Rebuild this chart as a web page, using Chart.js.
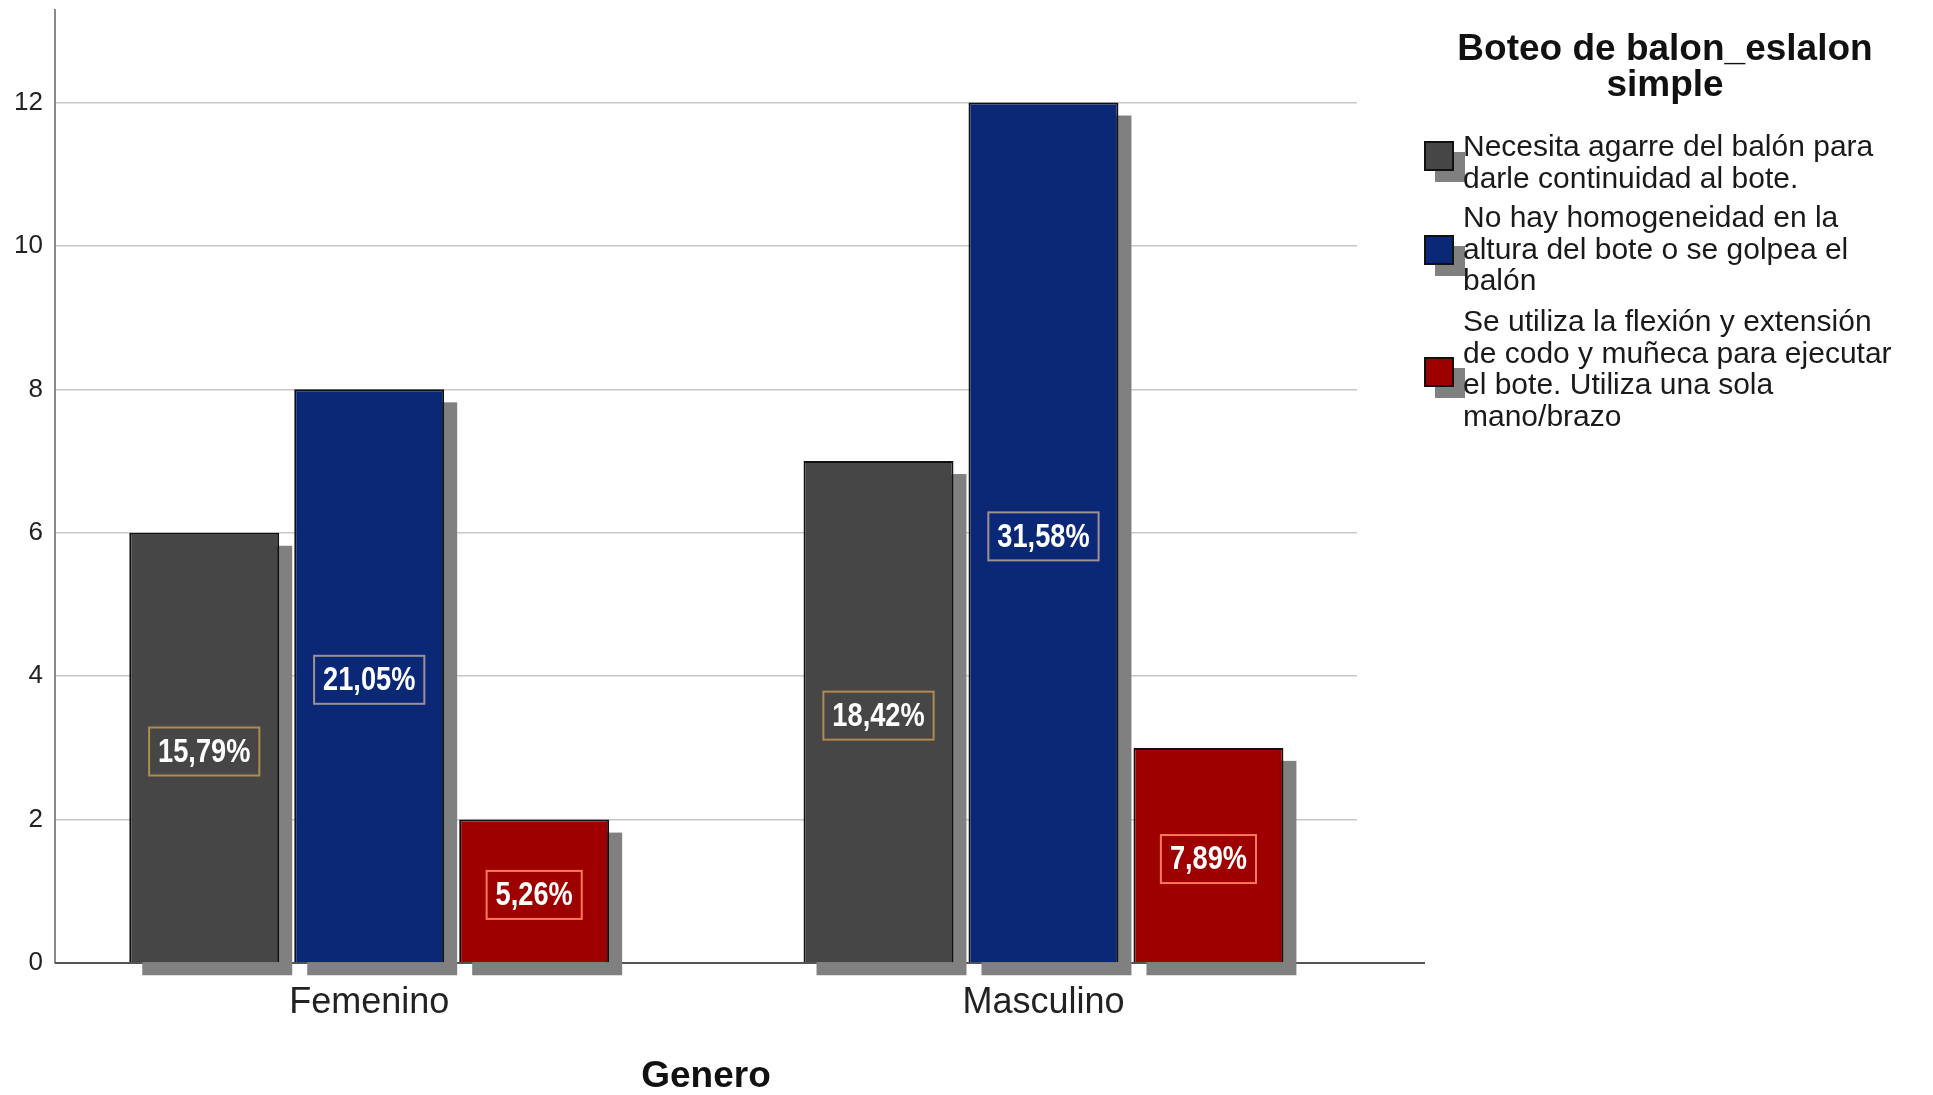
<!DOCTYPE html>
<html>
<head>
<meta charset="utf-8">
<script src="https://cdn.jsdelivr.net/npm/chart.js@4.4.1/dist/chart.umd.min.js"></script>
<style>
  body { margin: 0; background: #fff; }
  #wrap { position: relative; width: 1933px; height: 1095px; overflow: hidden; font-family: "Liberation Sans", Arial, sans-serif; color: #111; }
  #c { position: absolute; left: 0; top: 0; }
  .ttl { position: absolute; left: 1420px; width: 490px; text-align: center; font-weight: bold; font-size: 37px; line-height: 36px; top: 30px; }
  .item { position: absolute; left: 1463px; width: 437px; overflow: hidden; white-space: nowrap; font-size: 30px; line-height: 31.5px; color: #1a1a1a; }
  .sw { position: absolute; left: 1424px; width: 30px; height: 30px; box-sizing: border-box; border: 2px solid #111; box-shadow: 11px 11px 0 #808080; }
</style>
</head>
<body>
<div id="wrap">
  <canvas id="c" width="1933" height="1095"></canvas>
  <div class="ttl">Boteo de balon_eslalon<br>simple</div>
  <div class="sw" style="top:141px;background:#464646"></div>
  <div class="item" style="top:130px">Necesita agarre del balón para<br>darle continuidad al bote.</div>
  <div class="sw" style="top:235px;background:#0b2877"></div>
  <div class="item" style="top:201px">No hay homogeneidad en la<br>altura del bote o se golpea el<br>balón</div>
  <div class="sw" style="top:357px;background:#9e0000"></div>
  <div class="item" style="top:305px">Se utiliza la flexión y extensión<br>de codo y muñeca para ejecutar<br>el bote. Utiliza una sola<br>mano/brazo</div>
</div>
<script>
// categorias y valores (recuento)
const categories = ['Femenino', 'Masculino'];
const necesita = [6, 7];
const noHay = [8, 12];
const seUtiliza = [2, 3];
// etiquetas de porcentaje
const pctNecesita = ['15,79%', '18,42%'];
const pctNoHay = ['21,05%', '31,58%'];
const pctSeUtiliza = ['5,26%', '7,89%'];
const yTicks = [0, 2, 4, 6, 8, 10, 12];

const seriesNames = [
  'Necesita agarre del balón para darle continuidad al bote.',
  'No hay homogeneidad en la altura del bote o se golpea el balón',
  'Se utiliza la flexión y extensión de codo y muñeca para ejecutar el bote. Utiliza una sola mano/brazo'
];
const colors = ['#464646', '#0b2877', '#9e0000'];
const labelBorders = ['#b08a50', '#a09090', '#ff7a55'];
const pcts = [pctNecesita, pctNoHay, pctSeUtiliza];

const toPoints = arr => arr.map((v, i) => ({x: i, y: v}));

// sombra de las barras + linea del eje x
const shadowPlugin = {
  id: 'shadow',
  beforeDatasetsDraw(chart) {
    const ctx = chart.ctx;
    const y0 = chart.scales.y.getPixelForValue(0);
    ctx.save();
    ctx.strokeStyle = '#555';
    ctx.lineWidth = 2;
    ctx.beginPath();
    ctx.moveTo(chart.chartArea.left, y0);
    ctx.lineTo(1425, y0);
    ctx.stroke();
    ctx.fillStyle = '#808080';
    chart.data.datasets.forEach((ds, di) => {
      chart.getDatasetMeta(di).data.forEach(bar => {
        const p = bar.getProps(['x', 'y', 'base', 'width'], true);
        ctx.fillRect(p.x - p.width / 2 + 13, p.y + 13, p.width, p.base - p.y);
      });
    });
    ctx.restore();
  }
};

// etiquetas de porcentaje en cajas
const pctPlugin = {
  id: 'pct',
  afterDatasetsDraw(chart) {
    const ctx = chart.ctx;
    ctx.save();
    ctx.font = 'bold 34px "Liberation Sans", Arial, sans-serif';
    ctx.textAlign = 'center';
    ctx.textBaseline = 'middle';
    chart.data.datasets.forEach((ds, di) => {
      chart.getDatasetMeta(di).data.forEach((bar, i) => {
        const p = bar.getProps(['x', 'y', 'base'], true);
        const txt = pcts[di][i];
        const w = ctx.measureText(txt).width * 0.8 + 18;
        const h = 48;
        const cx = p.x, cy = (p.y + p.base) / 2 + 4;
        ctx.strokeStyle = labelBorders[di];
        ctx.lineWidth = 2;
        ctx.strokeRect(cx - w / 2, cy - h / 2, w, h);
        ctx.save();
        ctx.translate(cx, cy + 1);
        ctx.scale(0.8, 1);
        ctx.fillStyle = '#fff';
        ctx.fillText(txt, 0, 0);
        ctx.restore();
      });
    });
    ctx.restore();
  }
};

new Chart(document.getElementById('c'), {
  type: 'bar',
  data: {
    datasets: [
      {label: seriesNames[0], data: toPoints(necesita)},
      {label: seriesNames[1], data: toPoints(noHay)},
      {label: seriesNames[2], data: toPoints(seUtiliza)}
    ].map((d, i) => Object.assign(d, {
      backgroundColor: colors[i],
      borderColor: '#111',
      borderWidth: 2,
      categoryPercentage: 0.734,
      barPercentage: 0.909
    }))
  },
  options: {
    responsive: false,
    animation: false,
    layout: {padding: {left: 0, top: 10, right: 576, bottom: 0}},
    plugins: {legend: {display: false}, tooltip: {enabled: false}},
    scales: {
      x: {
        type: 'linear',
        min: -0.466,
        max: 1.465,
        offset: false,
        grid: {display: false, offset: false},
        border: {display: false},
        afterBuildTicks: s => { s.ticks = categories.map((c, i) => ({value: i})); },
        afterFit: s => { s.height = 132; s.paddingLeft = 0; s.paddingRight = 0; },
        ticks: {
          callback: v => categories[v],
          padding: 10,
          color: '#222',
          font: {family: '"Liberation Sans", Arial, sans-serif', size: 36}
        },
        title: {
          display: true,
          text: 'Genero',
          color: '#111',
          padding: 0,
          font: {family: '"Liberation Sans", Arial, sans-serif', size: 37, weight: 'bold', lineHeight: 1}
        }
      },
      y: {
        min: 0,
        max: 13.29,
        afterBuildTicks: s => { s.ticks = yTicks.map(v => ({value: v})); },
        afterFit: s => { s.width = 55; s.paddingTop = 0; s.paddingBottom = 0; },
        grid: {color: '#c8c8c8', lineWidth: 1.5, drawTicks: false},
        border: {display: true, color: '#8a8a8a', width: 2},
        ticks: {
          padding: 12,
          color: '#222',
          font: {family: '"Liberation Sans", Arial, sans-serif', size: 26}
        }
      }
    }
  },
  plugins: [shadowPlugin, pctPlugin]
});
</script>
</body>
</html>
